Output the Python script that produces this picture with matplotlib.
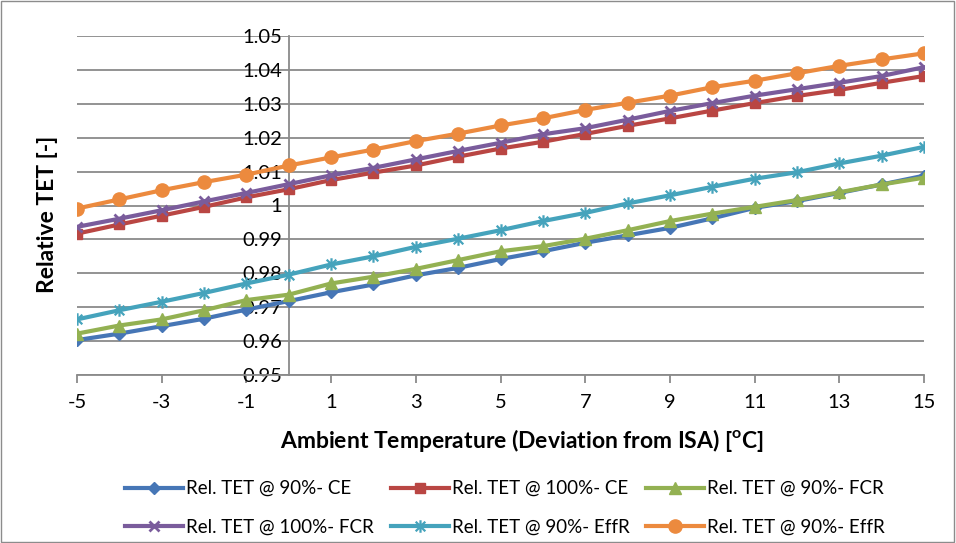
import matplotlib
matplotlib.use("Agg")
import matplotlib.pyplot as plt
from matplotlib.path import Path
from matplotlib.patches import Rectangle
from matplotlib.ticker import FuncFormatter

plt.rcParams['font.family'] = ['Lato', 'DejaVu Sans']
plt.rcParams['mathtext.fontset'] = 'custom'
plt.rcParams['mathtext.rm'] = 'Lato'
plt.rcParams['mathtext.bf'] = 'Lato:bold'
plt.rcParams['axes.unicode_minus'] = False

# Deviation from ISA [°C]
temps = list(range(-5, 16))

ce_90 = [0.9603, 0.9622, 0.9644, 0.9666, 0.9693, 0.9718, 0.9744, 0.9767, 0.9794, 0.9816,
         0.9842, 0.9865, 0.9890, 0.9912, 0.9934, 0.9962, 0.9993, 1.0013, 1.0037, 1.0062, 1.0088]
ce_100 = [0.9917, 0.9944, 0.9970, 0.9996, 1.0024, 1.0048, 1.0075, 1.0097, 1.0118, 1.0144,
          1.0168, 1.0188, 1.0211, 1.0235, 1.0257, 1.0280, 1.0302, 1.0323, 1.0341, 1.0362, 1.0382]
fcr_90 = [0.9622, 0.9646, 0.9664, 0.9691, 0.9721, 0.9737, 0.9770, 0.9790, 0.9813, 0.9839,
          0.9865, 0.9880, 0.9902, 0.9927, 0.9954, 0.9976, 0.9996, 1.0016, 1.0039, 1.0062, 1.0082]
fcr_100 = [0.9937, 0.9961, 0.9986, 1.0012, 1.0037, 1.0063, 1.0089, 1.0111, 1.0136, 1.0161,
           1.0185, 1.0210, 1.0228, 1.0253, 1.0279, 1.0302, 1.0324, 1.0343, 1.0362, 1.0382, 1.0408]
effr_90a = [0.9664, 0.9691, 0.9716, 0.9742, 0.9770, 0.9796, 0.9826, 0.9850, 0.9878, 0.9902,
            0.9927, 0.9954, 0.9978, 1.0006, 1.0030, 1.0055, 1.0079, 1.0098, 1.0124, 1.0147, 1.0173]
effr_90b = [0.9991, 1.0018, 1.0045, 1.0069, 1.0091, 1.0118, 1.0142, 1.0165, 1.0190, 1.0212,
            1.0236, 1.0257, 1.0282, 1.0303, 1.0324, 1.0349, 1.0368, 1.0390, 1.0412, 1.0431, 1.0449]

labels = ["Rel. TET @ 90%- CE", "Rel. TET @ 100%- CE", "Rel. TET @ 90%- FCR",
          "Rel. TET @ 100%- FCR", "Rel. TET @ 90%- EffR", "Rel. TET @ 90%- EffR"]

x_ticks = list(range(-5, 16, 2))
y_ticks = [0.95, 0.96, 0.97, 0.98, 0.99, 1.00, 1.01, 1.02, 1.03, 1.04, 1.05]

# asterisk marker: an X with a vertical bar through it
star = Path([(-1, -1), (1, 1), (-1, 1), (1, -1), (0, -1.3), (0, 1.3)],
            [Path.MOVETO, Path.LINETO, Path.MOVETO, Path.LINETO, Path.MOVETO, Path.LINETO])

styles = [
    dict(color='#4676B6', marker='D', ms=6.5, mew=1),
    dict(color='#B94643', marker='s', ms=7, mew=1),
    dict(color='#93B152', marker='^', ms=8.5, mew=1),
    dict(color='#7A5C9C', marker='x', ms=7.5, mew=2),
    dict(color='#45A3BC', marker=star, ms=9, mew=1.6),
    dict(color='#EC8A3E', marker='o', ms=9.5, mew=1),
]
series = [ce_90, ce_100, fcr_90, fcr_100, effr_90a, effr_90b]

fig = plt.figure(figsize=(9.56, 5.43), dpi=100)
ax = fig.add_axes([77 / 956, 1 - 375 / 543, (924 - 77) / 956, (375 - 36) / 543])

handles = []
for vals, lab, st in zip(series, labels, styles):
    h, = ax.plot(temps, vals, lw=3.0, label=lab, zorder=3,
                 color=st['color'], marker=st['marker'], ms=st['ms'], mew=st['mew'],
                 mfc=st['color'], mec=st['color'])
    handles.append(h)

ax.set_xlim(-5, 15)
ax.set_ylim(0.95, 1.05)
ax.set_xticks(x_ticks)
ax.set_yticks(y_ticks)
ax.yaxis.set_major_formatter(FuncFormatter(lambda v, p: f"{v:.2f}".rstrip('0').rstrip('.')))

grid_c = '#8A8A8A'
ax.grid(axis='y', color=grid_c, lw=1.3)
ax.set_axisbelow(True)
for s in ['top', 'right']:
    ax.spines[s].set_visible(False)
ax.spines['left'].set_position(('data', 0))
for s in ['left', 'bottom']:
    ax.spines[s].set_color(grid_c)
    ax.spines[s].set_linewidth(1.3)
ax.tick_params(axis='x', length=6, width=1.3, color=grid_c, pad=8, labelsize=14.5)
ax.tick_params(axis='y', length=0, pad=5, labelsize=14.5)

fig.text(48 / 956, 1 - 214 / 543, "Relative TET [-]", rotation=90,
         ha='center', va='center', fontsize=16.5, fontweight='bold')
fig.text(522 / 956, 1 - 440 / 543, r"Ambient Temperature (Deviation from ISA) [$^{\mathbf{o}}$C]",
         ha='center', va='center', fontsize=16.5, fontweight='bold')

order = [0, 3, 1, 4, 2, 5]
fig.legend([handles[i] for i in order], [labels[i] for i in order],
           ncol=3, loc='center', bbox_to_anchor=(505 / 956, 1 - 508 / 543),
           frameon=False, fontsize=13.5, handlelength=3.1, handletextpad=0.15,
           columnspacing=0.9, labelspacing=1.15)

fig.add_artist(Rectangle((0.001, 0.001), 0.997, 0.997, transform=fig.transFigure,
                         fill=False, edgecolor='#8C8C8C', lw=1))

fig.savefig("out.png", dpi=100)
